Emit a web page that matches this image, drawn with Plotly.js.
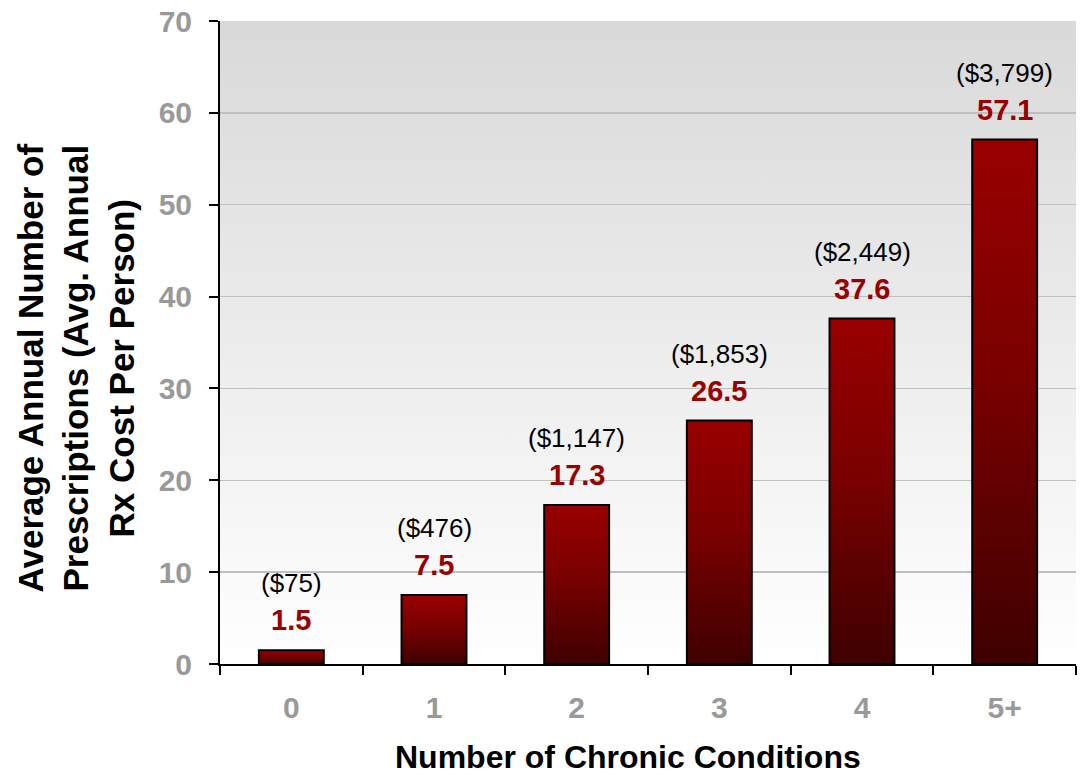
<!DOCTYPE html>
<html>
<head>
<meta charset="utf-8">
<script src="https://cdn.plot.ly/plotly-3.0.1.min.js"></script>
<style>
  html, body { margin: 0; padding: 0; background: #ffffff; }
  #chart { width: 1082px; height: 779px; }
</style>
</head>
<body>
<div id="chart"></div>
<script>
// ---- Data ----
const categories = ['0', '1', '2', '3', '4', '5+'];
const prescriptions = [1.5, 7.5, 17.3, 26.5, 37.6, 57.1];
const costLabels = ['($75)', '($476)', '($1,147)', '($1,853)', '($2,449)', '($3,799)'];
const yTickValues = [0, 10, 20, 30, 40, 50, 60, 70];
const xTitle = 'Number of Chronic Conditions';
const yTitle = 'Average Annual Number of<br>Prescriptions (Avg. Annual<br>Rx Cost Per Person)';

// ---- Styling ----
const FONT = 'Arial, "Liberation Sans", sans-serif';
const tickFont = { family: FONT, size: 30, color: '#999999', weight: 'bold' };

const trace = {
  type: 'bar',
  x: categories,
  y: prescriptions,
  marker: { color: '#800000', line: { color: '#000000', width: 2 } },
  hoverinfo: 'none'
};

const annotations = [];
categories.forEach((c, i) => {
  annotations.push({
    x: c, y: prescriptions[i], xref: 'x', yref: 'y',
    text: '<b>' + prescriptions[i].toFixed(1) + '</b>',
    showarrow: false, yanchor: 'bottom', xanchor: 'center', yshift: 12,
    font: { family: FONT, size: 29, color: '#990000' }
  });
  annotations.push({
    x: c, y: prescriptions[i], xref: 'x', yref: 'y',
    text: costLabels[i],
    showarrow: false, yanchor: 'bottom', xanchor: 'center', yshift: 50,
    font: { family: FONT, size: 26, color: '#000000' }
  });
});
annotations.push({
  xref: 'paper', yref: 'paper', x: 0.5, y: 0,
  xanchor: 'center', yanchor: 'top', xshift: -20, yshift: -74,
  borderpad: 0,
  text: '<b>' + xTitle + '</b>', showarrow: false,
  font: { family: FONT, size: 32, color: '#000000' }
});
annotations.push({
  xref: 'paper', yref: 'paper', x: 0, y: 0.5,
  xanchor: 'left', yanchor: 'middle', xshift: -212, yshift: -26,
  textangle: -90,
  text: '<b>' + yTitle + '</b>', showarrow: false,
  font: { family: FONT, size: 35, color: '#000000' }
});

const layout = {
  width: 1082, height: 779,
  margin: { l: 220, r: 6, t: 21, b: 115 },
  paper_bgcolor: '#ffffff',
  plot_bgcolor: '#e8e8e8',
  showlegend: false,
  bargap: 0.545,
  xaxis: {
    type: 'category',
    tickson: 'boundaries',
    ticks: 'outside', ticklen: 9, tickwidth: 2, tickcolor: '#000000',
    showline: true, linecolor: '#000000', linewidth: 2,
    showgrid: false, zeroline: false,
    tickfont: tickFont,
    ticklabelstandoff: 16,
    fixedrange: true
  },
  yaxis: {
    range: [0, 70],
    tickvals: yTickValues,
    ticks: 'outside', ticklen: 9, tickwidth: 2, tickcolor: '#000000',
    showline: true, linecolor: '#000000', linewidth: 2,
    showgrid: true, gridcolor: '#bfbfbf', gridwidth: 1.5,
    zeroline: false,
    tickfont: tickFont,
    ticklabelstandoff: 11,
    fixedrange: true
  },
  annotations: annotations
};

Plotly.newPlot('chart', [trace], layout, { staticPlot: true, displayModeBar: false }).then(gd => {
  const ns = 'http://www.w3.org/2000/svg';
  const svg = gd.querySelector('svg.main-svg');
  let defs = svg.querySelector('defs');
  if (!defs) { defs = document.createElementNS(ns, 'defs'); svg.insertBefore(defs, svg.firstChild); }
  function grad(id, stops) {
    const g = document.createElementNS(ns, 'linearGradient');
    g.setAttribute('id', id);
    g.setAttribute('x1', '0'); g.setAttribute('y1', '0');
    g.setAttribute('x2', '0'); g.setAttribute('y2', '1');
    stops.forEach(s => {
      const st = document.createElementNS(ns, 'stop');
      st.setAttribute('offset', s[0]);
      st.setAttribute('stop-color', s[1]);
      g.appendChild(st);
    });
    defs.appendChild(g);
  }
  grad('barGrad', [['0', '#990000'], ['0.45', '#7a0000'], ['1', '#3f0000']]);
  grad('bgGrad', [['0', '#d9d9d9'], ['1', '#ffffff']]);
  gd.querySelectorAll('.barlayer .point path').forEach(p => { p.style.fill = 'url(#barGrad)'; });
  const bg = gd.querySelector('.bglayer rect.bg');
  if (bg) bg.style.fill = 'url(#bgGrad)';
});
</script>
</body>
</html>
